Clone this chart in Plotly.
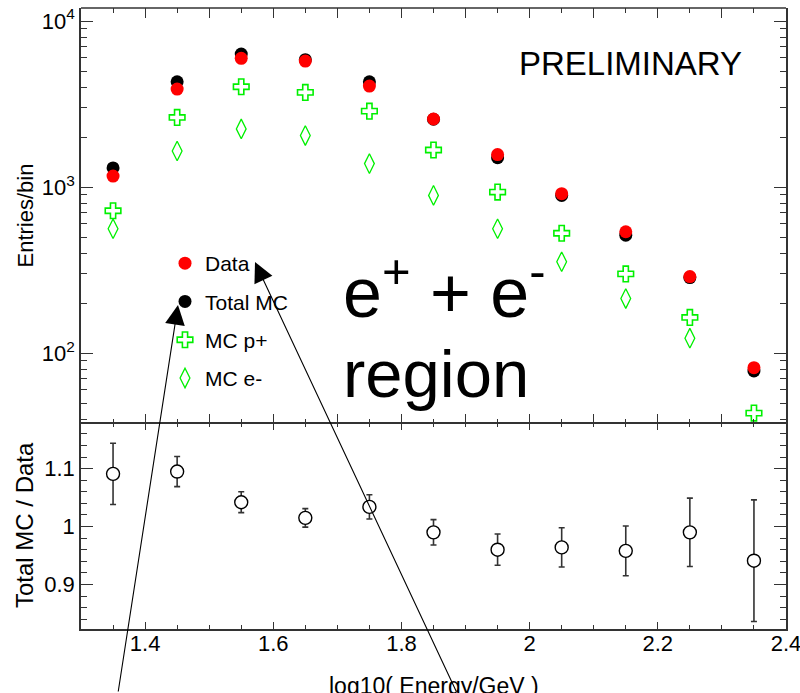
import plotly.graph_objects as go

# ---------------- data ----------------
x_bins = [1.35, 1.45, 1.55, 1.65, 1.75, 1.85, 1.95, 2.05, 2.15, 2.25, 2.35]
data_counts = [1165, 3890, 5960, 5740, 4055, 2570, 1569, 912, 538, 289, 81.7]
total_mc = [1303, 4305, 6320, 5850, 4305, 2560, 1503, 891, 513, 285, 78]
mc_pplus = [720, 2625, 4020, 3715, 2866, 1672, 933, 527, 300, 164, 43.5]
mc_eminus = [561, 1649, 2240, 2042, 1384, 891, 561, 355, 213, 123, 30]
ratio = [1.091, 1.095, 1.042, 1.015, 1.034, 0.990, 0.960, 0.964, 0.958, 0.990, 0.941]
ratio_err = [0.053, 0.026, 0.018, 0.016, 0.021, 0.022, 0.027, 0.034, 0.043, 0.059, 0.105]

x_tickvals_bot = [1.4, 1.6, 1.8, 2.0, 2.2, 2.4]
x_ticktext_bot = ["1.4", "1.6", "1.8", "2", "2.2", "2.4"]
x_tickvals_top = [1.3, 1.4, 1.5, 1.6, 1.7, 1.8, 1.9, 2.0, 2.1, 2.2, 2.3, 2.4]
y_top_tickvals = [100, 1000, 10000]
y_top_ticktext = ["10<sup>2</sup>", "10<sup>3</sup>", "10<sup>4</sup>"]
y_top_minor = [m * 10 ** e for e in (1, 2, 3) for m in range(2, 10)]
y_bot_tickvals = [0.9, 1.0, 1.1]
y_bot_ticktext = ["0.9", "1", "1.1"]

FONT = "Liberation Sans, Arial, sans-serif"
GREEN = "#00f000"
AX = "#333333"

# ---------------- geometry ----------------
W, H = 800, 693
ML, MR, MT, MB = 81, 14, 8, 64
PW, PH = W - ML - MR, H - MT - MB


def px_x(p):
    return (p - ML) / PW


def px_y(p):
    return (H - MB - p) / PH


split = px_y(423.5)

fig = go.Figure()

# top panel
fig.add_trace(go.Scatter(x=x_bins, y=total_mc, mode="markers", name="Total MC",
                         legendgroup="b", legendrank=2,
                         marker=dict(symbol="circle", size=13, color="black"),
                         xaxis="x2", yaxis="y2"))
fig.add_trace(go.Scatter(x=x_bins, y=data_counts, mode="markers", name="Data",
                         legendgroup="a", legendrank=1,
                         marker=dict(symbol="circle", size=13, color="#ff0000"),
                         xaxis="x2", yaxis="y2"))
fig.add_trace(go.Scatter(x=x_bins, y=mc_pplus, mode="markers", name="MC p+",
                         legendgroup="c", legendrank=3,
                         marker=dict(symbol="cross-open", size=13, color=GREEN,
                                     line=dict(width=1.6, color=GREEN)),
                         xaxis="x2", yaxis="y2"))
fig.add_trace(go.Scatter(x=x_bins, y=mc_eminus, mode="markers", name="MC e-",
                         legendgroup="d", legendrank=4,
                         marker=dict(symbol="diamond-tall-open", size=14, color=GREEN,
                                     line=dict(width=1.3, color=GREEN)),
                         xaxis="x2", yaxis="y2"))

# bottom panel
fig.add_trace(go.Scatter(x=x_bins, y=ratio, mode="markers", showlegend=False,
                         error_y=dict(type="data", array=ratio_err, color=AX,
                                      thickness=1.6, width=3),
                         marker=dict(symbol="circle", size=13, color="white",
                                     line=dict(width=1.4, color="black")),
                         xaxis="x", yaxis="y"))

common_ax = dict(linecolor=AX, linewidth=1.6, mirror="allticks", automargin=False,
                 ticks="inside", tickcolor=AX, tickwidth=1.3, showgrid=False,
                 zeroline=False, ticklabeloverflow="allow",
                 tickfont=dict(family=FONT, size=22, color="black"))

fig.update_layout(
    width=W, height=H,
    margin=dict(l=ML, r=MR, t=MT, b=MB, autoexpand=False),
    paper_bgcolor="white", plot_bgcolor="white",
    font=dict(family=FONT, color="black"),
    xaxis=dict(range=[1.3, 2.4], domain=[0, 1], anchor="y", showline=True,
               tickmode="array", tickvals=x_tickvals_bot, ticktext=x_ticktext_bot,
               ticklen=7, ticklabelstandoff=-6,
               minor=dict(dtick=0.05, tick0=1.3, ticks="inside", ticklen=4,
                          tickcolor=AX, tickwidth=1.3),
               **common_ax),
    yaxis=dict(range=[0.823, 1.178], domain=[0, split], anchor="x", showline=True,
               tickmode="array", tickvals=y_bot_tickvals, ticktext=y_bot_ticktext,
               ticklen=12,
               minor=dict(dtick=0.02, tick0=0.8, ticks="inside", ticklen=6,
                          tickcolor=AX, tickwidth=1.3),
               **common_ax),
    xaxis2=dict(range=[1.3, 2.4], domain=[0, 1], anchor="y2", matches="x",
                showline=False, showticklabels=False,
                tickmode="array", tickvals=x_tickvals_top, ticklen=10,
                minor=dict(dtick=0.05, tick0=1.3, ticks="inside", ticklen=5,
                           tickcolor=AX, tickwidth=1.3),
                **common_ax),
    yaxis2=dict(type="log", range=[1.576, 4.0784], domain=[split, 1], anchor="x2",
                showline=True,
                tickmode="array", tickvals=y_top_tickvals, ticktext=y_top_ticktext,
                ticklen=12,
                minor=dict(tickmode="array", tickvals=y_top_minor, ticks="inside",
                           ticklen=6, tickcolor=AX, tickwidth=1.3),
                **common_ax),
    showlegend=True,
    legend=dict(x=px_x(165), y=px_y(243), xanchor="left", yanchor="top",
                bgcolor="rgba(0,0,0,0)", borderwidth=0,
                font=dict(family=FONT, size=21, color="black"),
                traceorder="grouped", tracegroupgap=8),
    shapes=[dict(type="line", xref="paper", yref="paper", x0=0, x1=1, y0=1, y1=1,
                 line=dict(color=AX, width=1.6))],
)

annos = [
    dict(text="Entries/bin", x=px_x(25), y=px_y(215.5), textangle=-90,
         font=dict(size=22)),
    dict(text="Total MC / Data", x=px_x(24), y=px_y(525), textangle=-90,
         font=dict(size=24)),
    dict(text="PRELIMINARY", x=px_x(630.5), y=px_y(64), font=dict(size=33)),
    dict(text="e<sup>+</sup> + e<sup>-</sup>", x=px_x(341), y=px_y(288),
         xanchor="left", font=dict(size=70)),
    dict(text="region", x=px_x(341), y=px_y(374), xanchor="left",
         font=dict(size=67)),
]
for a in annos:
    a.setdefault("xanchor", "center")
    a.update(xref="paper", yref="paper", yanchor="middle", showarrow=False)
    a["font"] = dict(family=FONT, color="black", **a["font"])
    fig.add_annotation(**a)

# x-axis title sits at the very bottom edge, as in the reference
fig.add_annotation(text="log10( Energy/GeV )", x=px_x(434), y=px_y(671),
                   xref="paper", yref="paper", xanchor="center", yanchor="top",
                   showarrow=False, font=dict(family=FONT, size=23, color="black"))

# arrows pointing at the legend entries
for tip, tail in [((178, 305), (118, 693)), ((255, 262), (457, 693))]:
    fig.add_annotation(x=px_x(tip[0]), y=px_y(tip[1]), xref="paper", yref="paper",
                       text="", showarrow=True, axref="pixel", ayref="pixel",
                       ax=tail[0] - tip[0], ay=tail[1] - tip[1],
                       arrowhead=2, arrowsize=3.6, arrowwidth=1.1,
                       arrowcolor="black", standoff=0)

fig.write_html("out.html")
